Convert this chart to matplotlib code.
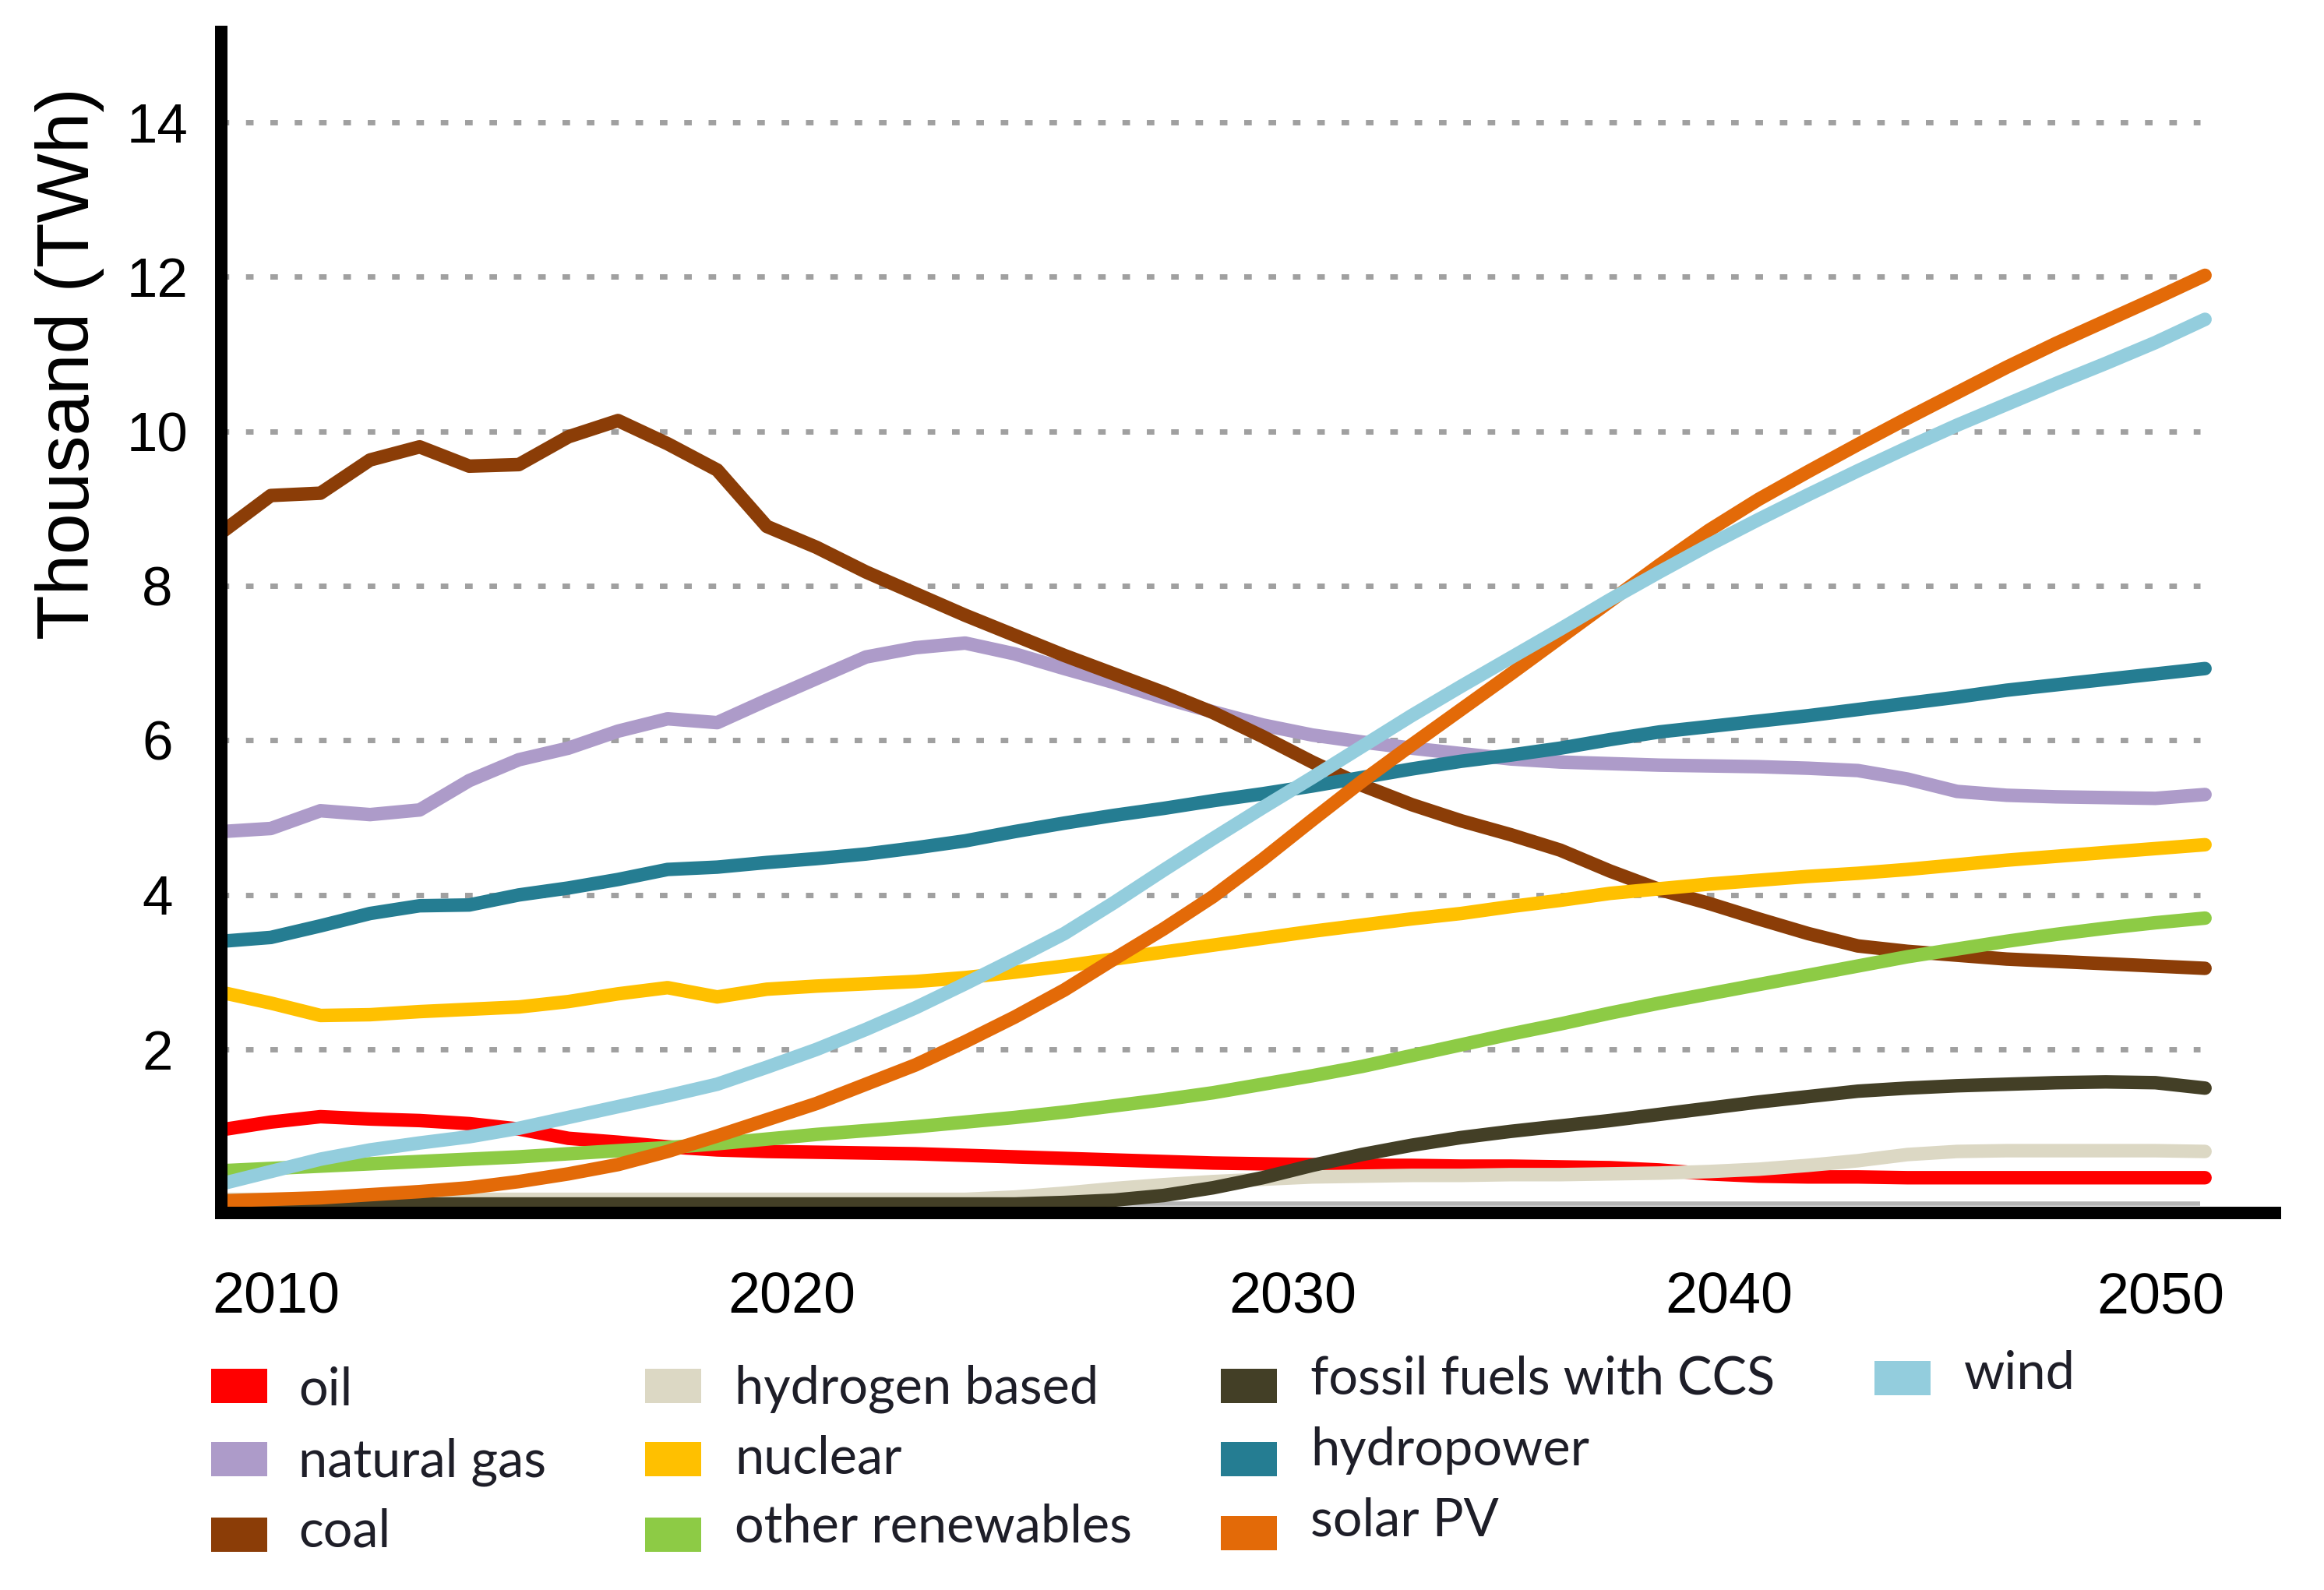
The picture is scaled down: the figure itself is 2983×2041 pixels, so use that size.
import matplotlib
matplotlib.use("Agg")
import matplotlib.pyplot as plt
from matplotlib.patches import Rectangle

# thousand TWh per year, 2010-2050
years = list(range(2010, 2051))

oil = [0.96, 1.06, 1.13, 1.10, 1.08, 1.04, 0.97, 0.85, 0.80, 0.74,
       0.70, 0.68, 0.67, 0.66, 0.65, 0.63, 0.61, 0.59, 0.57, 0.55,
       0.53, 0.52, 0.51, 0.50, 0.50, 0.49, 0.49, 0.48, 0.47, 0.44,
       0.39, 0.36, 0.35, 0.35, 0.34, 0.34, 0.34, 0.34, 0.34, 0.34, 0.34]
natural_gas = [4.82, 4.86, 5.09, 5.04, 5.10, 5.48, 5.75, 5.90, 6.12, 6.28,
               6.23, 6.52, 6.80, 7.08, 7.20, 7.26, 7.12, 6.93, 6.75, 6.55,
               6.37, 6.20, 6.07, 5.98, 5.90, 5.83, 5.76, 5.72, 5.70, 5.68,
               5.67, 5.66, 5.64, 5.61, 5.50, 5.34, 5.29, 5.27, 5.26, 5.25, 5.30]
coal = [8.69, 9.17, 9.20, 9.63, 9.80, 9.55, 9.57, 9.93, 10.14, 9.84,
        9.50, 8.77, 8.50, 8.18, 7.90, 7.62, 7.36, 7.10, 6.86, 6.62,
        6.36, 6.05, 5.72, 5.42, 5.17, 4.96, 4.78, 4.58, 4.31, 4.07,
        3.89, 3.69, 3.50, 3.34, 3.27, 3.22, 3.17, 3.14, 3.11, 3.08, 3.05]
hydrogen = [0.06, 0.06, 0.06, 0.06, 0.06, 0.06, 0.06, 0.06, 0.06, 0.06,
            0.06, 0.06, 0.06, 0.06, 0.06, 0.06, 0.09, 0.14, 0.20, 0.25,
            0.29, 0.32, 0.35, 0.36, 0.37, 0.37, 0.38, 0.38, 0.39, 0.40,
            0.42, 0.45, 0.50, 0.56, 0.64, 0.68, 0.69, 0.69, 0.69, 0.69, 0.68]
nuclear = [2.74, 2.60, 2.44, 2.45, 2.49, 2.52, 2.55, 2.62, 2.72, 2.80,
           2.68, 2.78, 2.82, 2.85, 2.88, 2.93, 3.00, 3.08, 3.17, 3.26,
           3.35, 3.44, 3.53, 3.61, 3.69, 3.76, 3.85, 3.93, 4.02, 4.08,
           4.14, 4.19, 4.24, 4.28, 4.33, 4.39, 4.45, 4.50, 4.55, 4.60, 4.65]
other_renewables = [0.43, 0.46, 0.49, 0.52, 0.55, 0.58, 0.61, 0.65, 0.69, 0.73,
                    0.78, 0.84, 0.90, 0.95, 1.00, 1.06, 1.12, 1.19, 1.27, 1.35,
                    1.44, 1.55, 1.66, 1.78, 1.92, 2.06, 2.20, 2.33, 2.47, 2.60,
                    2.72, 2.84, 2.96, 3.08, 3.20, 3.30, 3.40, 3.49, 3.57, 3.64, 3.70]
fossil_ccs = [0.0, 0.0, 0.0, 0.0, 0.0, 0.0, 0.0, 0.0, 0.0, 0.0,
              0.0, 0.0, 0.0, 0.0, 0.0, 0.0, 0.0, 0.02, 0.05, 0.11,
              0.21, 0.34, 0.50, 0.64, 0.76, 0.86, 0.94, 1.01, 1.08, 1.16,
              1.24, 1.32, 1.39, 1.46, 1.50, 1.53, 1.55, 1.57, 1.58, 1.57, 1.50]
hydropower = [3.40, 3.45, 3.60, 3.76, 3.86, 3.87, 4.00, 4.09, 4.20, 4.33,
              4.36, 4.42, 4.47, 4.53, 4.61, 4.70, 4.82, 4.93, 5.03, 5.12,
              5.22, 5.31, 5.41, 5.52, 5.63, 5.73, 5.81, 5.90, 6.01, 6.11,
              6.18, 6.25, 6.32, 6.40, 6.48, 6.56, 6.65, 6.72, 6.79, 6.86, 6.93]
solar_pv = [0.04, 0.06, 0.08, 0.12, 0.16, 0.21, 0.29, 0.39, 0.51, 0.68,
            0.88, 1.09, 1.30, 1.55, 1.80, 2.10, 2.42, 2.77, 3.17, 3.56,
            3.98, 4.46, 4.97, 5.47, 5.94, 6.40, 6.86, 7.33, 7.80, 8.27,
            8.72, 9.12, 9.48, 9.83, 10.17, 10.50, 10.83, 11.14, 11.43, 11.72, 12.02]
wind = [0.26, 0.42, 0.58, 0.70, 0.79, 0.87, 0.98, 1.12, 1.26, 1.40,
        1.55, 1.77, 2.00, 2.26, 2.54, 2.85, 3.17, 3.50, 3.90, 4.32,
        4.73, 5.13, 5.52, 5.92, 6.32, 6.70, 7.07, 7.44, 7.82, 8.18,
        8.53, 8.86, 9.18, 9.49, 9.79, 10.08, 10.35, 10.62, 10.88, 11.15, 11.45]

labels = ["oil", "natural gas", "coal", "hydrogen based", "nuclear",
          "other renewables", "fossil fuels with CCS", "hydropower",
          "solar PV", "wind"]
values = [oil, natural_gas, coal, hydrogen, nuclear, other_renewables,
          fossil_ccs, hydropower, solar_pv, wind]
colors = ["#ff0000", "#ad9bc9", "#8b3d07", "#dcd8c4", "#ffc000",
          "#8dcb45", "#433f26", "#257d92", "#e36a08", "#93cddd"]

ytick_vals = [2, 4, 6, 8, 10, 12, 14]
xtick_labels = ["2010", "2020", "2030", "2040", "2050"]
# the year labels sit a bit off the years in the source picture
xtick_pos = [2011.1, 2021.5, 2031.6, 2040.4, 2049.1]

# legend layout in pixels: (patch x, patch centre y, text x, text baseline y)
legend_pos = [(271, 1779, 383, 1804), (271, 1873, 383, 1895), (271, 1970, 383, 1986),
              (828, 1779, 943, 1801), (828, 1873, 943, 1892), (828, 1970, 943, 1979),
              (1567, 1779, 1682, 1790), (1567, 1873, 1682, 1881), (1567, 1968, 1682, 1972),
              (2406, 1769, 2521, 1783)]

W, H = 2983, 2041
fig = plt.figure(figsize=(W / 100, H / 100), dpi=100)
ax = fig.add_axes([284 / W, 1 - 1557 / H, (2920 - 284) / W, (1557 - 41) / H])

ax.hlines(ytick_vals, 2010, 2049.9, colors="#a0a0a0", linewidth=5,
          linestyles=(0, (1.4, 3.1)), zorder=1)
ax.hlines(0, 2010, 2049.9, colors="#b4b4b4", linewidth=4, zorder=1.5)

for i, (name, vals, c) in enumerate(zip(labels, values, colors)):
  ax.plot(years, vals, color=c, linewidth=12.5, solid_capstyle="round",
          solid_joinstyle="round", zorder=2 + i * 0.01, label=name)

ax.set_xlim(2010, 2051.41)
ax.set_ylim(-0.116, 15.17)

for s in ["top", "right"]:
  ax.spines[s].set_visible(False)
for s in ["left", "bottom"]:
  ax.spines[s].set_linewidth(11.5)
  ax.spines[s].set_color("black")

ax.set_yticks(ytick_vals)
ax.set_yticklabels([str(v) for v in ytick_vals], fontsize=51,
                   family="Liberation Sans")
ax.tick_params(axis="y", length=0, pad=59)
for t in ax.get_yticklabels():
  t.set_horizontalalignment("center")

ax.set_xticks(xtick_pos)
ax.set_xticklabels(xtick_labels, fontsize=53, family="Liberation Sans")
ax.tick_params(axis="x", length=0, pad=54)

ax.set_ylabel("Thousand (TWh)", fontsize=68, family="Liberation Sans")
ax.yaxis.set_label_coords((90 - 284) / 2636, (1557 - 467) / 1516)
ax.yaxis.label.set_verticalalignment("center")

for name, c, (px, pyc, tx, ty) in zip(labels, colors, legend_pos):
  fig.add_artist(Rectangle((px / W, 1 - (pyc + 22) / H), 72 / W, 44 / H,
                           transform=fig.transFigure, facecolor=c,
                           edgecolor="none"))
  fig.text(tx / W, 1 - ty / H, name, fontsize=48, family="Lato",
           color="#1e1e28", ha="left", va="baseline")

fig.savefig("out.png", dpi=100, facecolor="white")
